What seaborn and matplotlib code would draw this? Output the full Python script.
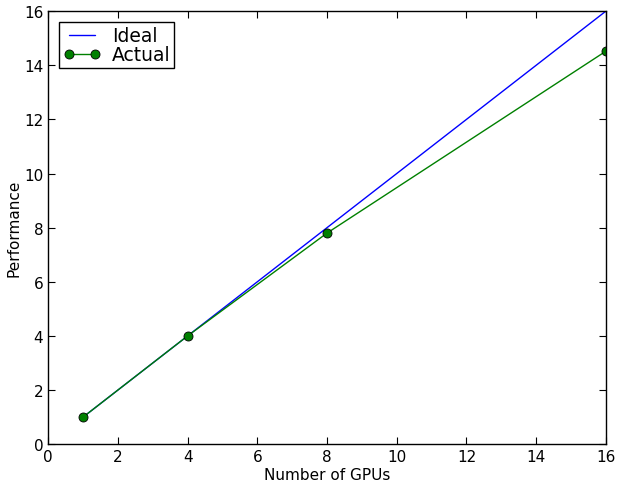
import matplotlib
matplotlib.use("Agg")
import matplotlib.pyplot as plt
import seaborn as sns
import pandas as pd

gpus = [1, 4, 8, 16]
ideal = [1, 4, 8, 16]
actual = [1.0, 4.0, 7.8, 14.52]

sns.set_style("ticks")
plt.rcParams['font.family'] = ['DejaVu Sans']
plt.rcParams['text.color'] = 'black'
plt.rcParams['axes.labelcolor'] = 'black'

fig = plt.figure(figsize=(6.17, 4.85), dpi=100)
ax = fig.add_axes([0.078, 0.082, 0.904, 0.893])

df_i = pd.DataFrame({"x": gpus, "y": ideal})
df_a = pd.DataFrame({"x": gpus, "y": actual})
sns.lineplot(data=df_i, x="x", y="y", ax=ax, color="blue", linewidth=1, label="Ideal")
sns.lineplot(data=df_a, x="x", y="y", ax=ax, color="green", linewidth=1, marker="o",
             markersize=6.5, markeredgecolor="black", markeredgewidth=0.6, label="Actual")

ax.set_xlim(0, 16)
ax.set_ylim(0, 16)
ax.set_xticks(range(0, 17, 2))
ax.set_yticks(range(0, 17, 2))
ax.set_xlabel("Number of GPUs", fontsize=11, color="black")
ax.set_ylabel("Performance", fontsize=11, color="black")
ax.yaxis.labelpad = 2
ax.tick_params(direction="in", top=True, right=True, length=5, labelsize=11, colors="black")
for s in ax.spines.values():
    s.set_visible(True)
    s.set_color("black")
    s.set_linewidth(1)
ax.xaxis.labelpad = 2
leg = ax.legend(loc="upper left", fontsize=13.5, fancybox=False, frameon=True,
                handlelength=2.0, borderpad=0.2, labelspacing=0.0, handletextpad=0.6,
                borderaxespad=0.6, numpoints=2)
for t in leg.get_texts():
    t.set_color("black")
leg.get_frame().set_edgecolor("black")
leg.get_frame().set_linewidth(1)
leg.get_frame().set_alpha(1)

fig.savefig("out.png", dpi=100)
